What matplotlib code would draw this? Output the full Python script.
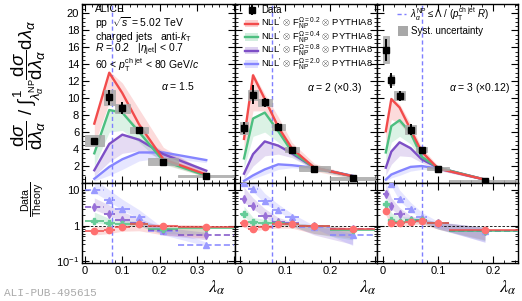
import numpy as np
import matplotlib
matplotlib.use('Agg')
import matplotlib.pyplot as plt
from matplotlib.patches import Rectangle
from matplotlib.lines import Line2D
from matplotlib.ticker import MultipleLocator, FuncFormatter, LogLocator, NullFormatter, FixedLocator

plt.rcParams['font.family'] = ['Liberation Sans', 'DejaVu Sans']
plt.rcParams['mathtext.fontset'] = 'custom'
plt.rcParams['mathtext.rm'] = 'Liberation Sans'
plt.rcParams['mathtext.it'] = 'Liberation Sans:italic'
plt.rcParams['mathtext.bf'] = 'Liberation Sans:bold'

# ---------------- data ----------------
MODEL_LABELS = ['0.2', '0.4', '0.8', '2.0']
LAMBDA_NP = 0.0714
ALPHA_LABELS = [r'$\alpha$ = 1.5', r'$\alpha$ = 2 ($\times$0.3)', r'$\alpha$ = 3 ($\times$0.12)']

# panel 1 : alpha = 1.5
P1_EDGES = [0, 0.05, 0.08, 0.12, 0.17, 0.25, 0.40]
P1_DATA = [5.0, 10.1, 8.8, 6.2, 2.5, 0.8]
P1_STAT = [0.3, 0.9, 0.7, 0.45, 0.25, 0.1]
P1_SYST = [0.65, 0.9, 0.5, 0.35, 0.4, 0.1]
P1_THEORY = [[7.0, 13.0, 10.6, 6.9, 2.8, 1.0],
             [3.5, 8.6, 8.3, 6.0, 2.6, 0.85],
             [1.5, 4.6, 5.7, 5.1, 3.4, 1.45],
             [0.5, 1.9, 2.8, 3.6, 3.6, 2.7]]
P1_THEORY_LO = [[4.5, 9.5, 8.5, 6.0, 2.3, 0.7],
                [2.0, 6.0, 6.2, 4.8, 2.2, 0.7],
                [0.8, 2.5, 3.5, 3.8, 2.9, 1.2],
                [0.25, 0.9, 1.6, 2.6, 3.0, 2.4]]
P1_THEORY_HI = [[7.3, 13.2, 11.8, 8.7, 4.2, 1.3],
                [3.6, 8.7, 8.5, 6.4, 3.2, 1.0],
                [1.6, 4.7, 5.8, 5.3, 3.8, 1.6],
                [0.55, 2.0, 2.9, 3.7, 3.7, 2.8]]
P1_RATIO = [[0.69, 0.76, 0.90, 1.11, 1.0, 0.94],
            [1.38, 1.19, 1.12, 1.15, 0.81, 0.84],
            [3.3, 2.1, 1.48, 1.16, 0.76, 0.56],
            [10.1, 5.3, 2.95, 1.8, 0.69, 0.29]]
P1_RATIO_LO = [[0.55, 0.6, 0.7, 0.72, 0.55, 0.45],
               [1.2, 1.05, 1.0, 0.95, 0.6, 0.55],
               [2.8, 1.9, 1.3, 1.05, 0.55, 0.4],
               [8.5, 4.8, 2.7, 1.6, 0.55, 0.27]]
P1_RATIO_HI = [[0.95, 0.95, 1.05, 1.2, 1.1, 1.05],
               [2.4, 1.6, 1.4, 1.35, 0.95, 0.95],
               [6.0, 3.8, 2.5, 1.6, 0.9, 0.65],
               [20, 10, 5.5, 2.8, 0.85, 0.35]]

# panel 2 : alpha = 2 (x0.3)
P2_EDGES = [0, 0.018, 0.04, 0.07, 0.10, 0.13, 0.20, 0.30]
P2_DATA = [6.5, 10.4, 9.5, 6.6, 3.9, 1.7, 0.55]
P2_STAT = [0.7, 1.1, 0.5, 0.5, 0.3, 0.15, 0.08]
P2_SYST = [0.7, 0.6, 0.4, 0.4, 0.3, 0.3, 0.2]
P2_THEORY = [[5.2, 12.7, 9.9, 6.6, 4.1, 1.8, 0.8],
             [2.9, 7.6, 8.3, 6.1, 3.7, 1.8, 0.8],
             [1.1, 3.4, 4.9, 4.4, 3.5, 1.8, 0.8],
             [0.25, 0.9, 1.6, 2.2, 2.1, 1.8, 0.85]]
P2_THEORY_LO = [[3.5, 8.5, 8.5, 6.0, 3.7, 1.4, 0.5],
                [1.8, 5.5, 6.0, 4.8, 3.2, 1.5, 0.6],
                [0.5, 2.0, 3.2, 3.4, 3.0, 1.6, 0.65],
                [0.1, 0.5, 1.0, 1.6, 1.8, 1.6, 0.7]]
P2_THEORY_HI = [[5.4, 13.0, 10.5, 7.8, 4.8, 2.3, 0.9],
                [3.0, 7.8, 8.5, 6.3, 4.0, 2.1, 0.9],
                [1.2, 3.5, 5.0, 4.6, 3.7, 2.0, 0.9],
                [0.3, 1.0, 1.7, 2.3, 2.2, 1.9, 0.9]]
P2_RATIO = [[1.16, 0.81, 0.9, 1.1, 1.1, 0.96, 0.81],
            [2.1, 1.24, 1.16, 1.16, 1.1, 0.96, 0.76],
            [5.6, 3.66, 1.9, 1.24, 1.16, 0.96, 0.81],
            [16, 10.8, 4.8, 2.8, 1.8, 0.94, 0.55]]
P2_RATIO_LO = [[0.9, 0.7, 0.8, 0.85, 0.85, 0.6, 0.45],
               [1.8, 1.1, 1.05, 1.0, 0.95, 0.6, 0.4],
               [4.5, 3.0, 1.7, 1.1, 1.0, 0.55, 0.3],
               [14, 9, 4.2, 2.5, 1.5, 0.85, 0.28]]
P2_RATIO_HI = [[1.6, 1.1, 1.05, 1.15, 1.15, 1.05, 0.9],
               [3.5, 1.7, 1.5, 1.4, 1.25, 1.05, 0.85],
               [12, 6, 3, 1.7, 1.3, 1.0, 0.85],
               [40, 20, 8, 4, 2.2, 1.0, 0.6]]

# panel 3 : alpha = 3 (x0.12)
P3_EDGES = [0, 0.01, 0.02, 0.04, 0.06, 0.08, 0.12, 0.25]
P3_DATA = [15.7, 12.1, 10.3, 6.3, 3.9, 1.7, 0.25]
P3_STAT = [1.3, 0.9, 0.6, 0.6, 0.35, 0.2, 0.1]
P3_SYST = [1.6, 0.6, 0.5, 0.5, 0.3, 0.2, 0.1]
P3_THEORY = [[6.1, 9.9, 8.9, 6.3, 3.7, 1.7, 0.4],
             [3.6, 6.7, 7.4, 5.9, 3.1, 1.8, 0.4],
             [1.8, 3.7, 4.8, 4.1, 2.8, 1.8, 0.4],
             [0.4, 1.0, 1.4, 1.9, 2.0, 1.7, 0.4]]
P3_THEORY_LO = [[4.5, 7.5, 7.0, 5.5, 3.3, 1.5, 0.3],
                [2.2, 4.8, 5.5, 4.6, 2.7, 1.6, 0.3],
                [0.9, 2.2, 3.2, 3.1, 2.4, 1.6, 0.3],
                [0.2, 0.6, 0.9, 1.4, 1.6, 1.5, 0.3]]
P3_THEORY_HI = [[6.3, 10.1, 9.3, 7.0, 4.2, 2.0, 0.5],
                [3.7, 6.9, 7.6, 6.1, 3.4, 2.0, 0.5],
                [1.9, 3.8, 4.9, 4.3, 3.0, 2.0, 0.5],
                [0.45, 1.05, 1.5, 2.0, 2.1, 1.8, 0.5]]
P3_RATIO = [[2.6, 1.16, 1.16, 1.3, 1.32, 1.16, 0.75],
            [4.1, 1.45, 1.3, 1.45, 1.45, 1.16, 0.73],
            [7.8, 3.66, 2.1, 1.45, 1.4, 1.16, 0.72],
            [30, 15, 5.6, 2.95, 1.7, 1.16, 0.70]]
P3_RATIO_LO = [[2.0, 0.95, 0.95, 1.05, 1.1, 0.8, 0.4],
               [3.5, 1.25, 1.15, 1.2, 1.2, 0.8, 0.38],
               [7, 3.0, 1.9, 1.3, 1.25, 0.8, 0.35],
               [25, 13, 5, 2.6, 1.5, 0.85, 0.34]]
P3_RATIO_HI = [[3.5, 1.5, 1.4, 1.4, 1.45, 1.25, 0.9],
               [7, 2.3, 1.8, 1.7, 1.6, 1.25, 0.9],
               [16, 6, 3.2, 1.9, 1.6, 1.25, 0.9],
               [60, 30, 10, 4.5, 2.4, 1.3, 0.9]]

PANELS = [
    dict(edges=P1_EDGES, data=P1_DATA, stat=P1_STAT, syst=P1_SYST, th=P1_THEORY, thlo=P1_THEORY_LO,
         thhi=P1_THEORY_HI, r=P1_RATIO, rlo=P1_RATIO_LO, rhi=P1_RATIO_HI),
    dict(edges=P2_EDGES, data=P2_DATA, stat=P2_STAT, syst=P2_SYST, th=P2_THEORY, thlo=P2_THEORY_LO,
         thhi=P2_THEORY_HI, r=P2_RATIO, rlo=P2_RATIO_LO, rhi=P2_RATIO_HI),
    dict(edges=P3_EDGES, data=P3_DATA, stat=P3_STAT, syst=P3_SYST, th=P3_THEORY, thlo=P3_THEORY_LO,
         thhi=P3_THEORY_HI, r=P3_RATIO, rlo=P3_RATIO_LO, rhi=P3_RATIO_HI),
]

# ---------------- style ----------------
COLORS = ['#f24b4b', '#4dbf80', '#7d4fc6', '#8585ff']
MCOLORS = ['#ff7070', '#66cc99', '#9a70d8', '#9a9aff']
MARKERS = ['o', 'P', 'd', '^']
MSIZES = [4.5, 5, 4, 4.5]
XLIMS = [(-0.008, 0.402), (-0.011, 0.304), (-0.011, 0.245)]
XLABEL_MAX = [0.35, 0.25, 0.22]
PX_X = [(82, 235), (235, 377), (377, 518)]
TOP_Y = (4, 183)
BOT_Y = (183, 263)
DASH_COLOR = '#7f7fff'

W, H = 522, 301
fig = plt.figure(figsize=(W / 100, H / 100), dpi=100)


def fx(px):
    return px / W


def fy(py):
    return 1 - py / H


def style_axis(ax):
    ax.tick_params(which='both', direction='in', top=True, right=True, labelsize=8, pad=2)
    ax.tick_params(which='major', length=5, width=0.8)
    ax.tick_params(which='minor', length=2.5, width=0.6)
    for s in ax.spines.values():
        s.set_linewidth(1.0)


def xfmt_factory(vmax):
    def f(v, p):
        if v > vmax + 1e-9:
            return ''
        if abs(v) < 1e-9:
            return '0'
        return f'{v:.1f}'
    return FuncFormatter(f)


def rfmt(v, p):
    if abs(v - 10) < 1e-6:
        return '10'
    if abs(v - 1) < 1e-6:
        return '1'
    if abs(v - 0.1) < 1e-6:
        return r'$10^{-1}$'
    return ''


ALPHA_POS = [(161, 86), (307, 88), (449, 88)]

for i, p in enumerate(PANELS):
    l, r = PX_X[i]
    axt = fig.add_axes([fx(l), fy(TOP_Y[1]), fx(r) - fx(l), fy(TOP_Y[0]) - fy(TOP_Y[1])])
    axr = fig.add_axes([fx(l), fy(BOT_Y[1]), fx(r) - fx(l), fy(BOT_Y[0]) - fy(BOT_Y[1])])
    edges = np.array(p['edges'])
    xc = 0.5 * (edges[1:] + edges[:-1])
    xw = 0.5 * (edges[1:] - edges[:-1])

    # ---- top panel
    for m in range(4):
        axt.fill_between(xc, p['thlo'][m], p['thhi'][m], color=COLORS[m], alpha=0.2, lw=0, zorder=1)
    for m in [3, 2, 1, 0]:
        axt.plot(xc, p['th'][m], color=COLORS[m], lw=1.7, zorder=3)
    for x0, x1, y, s in zip(edges[:-1], edges[1:], p['data'], p['syst']):
        axt.add_patch(Rectangle((x0, y - s), x1 - x0, 2 * s, fc='#a8a8a8', ec='#a8a8a8', lw=0.6,
                                alpha=0.85, zorder=4))
    axt.errorbar(xc, p['data'], yerr=p['stat'], fmt='s', color='k', ms=4, lw=1.4, capsize=0, zorder=6)
    axt.axvline(LAMBDA_NP, color=DASH_COLOR, ls=(0, (3, 2)), lw=1.0, zorder=2)
    axt.set_xlim(*XLIMS[i])
    axt.set_ylim(0, 21.1)
    axt.xaxis.set_major_locator(MultipleLocator(0.1))
    axt.xaxis.set_minor_locator(MultipleLocator(0.02))
    axt.yaxis.set_major_locator(FixedLocator(np.arange(2, 21, 2)))
    axt.yaxis.set_minor_locator(MultipleLocator(0.5))
    style_axis(axt)
    axt.tick_params(labelbottom=False)
    if i > 0:
        axt.tick_params(labelleft=False)
    fig.text(fx(ALPHA_POS[i][0]), fy(ALPHA_POS[i][1]), ALPHA_LABELS[i], fontsize=7.5,
             ha='left', va='center')

    # ---- ratio panel
    for m in range(4):
        axr.fill_between(xc, p['rlo'][m], p['rhi'][m], color=COLORS[m], alpha=0.2, lw=0, zorder=1)
    axr.axhline(1, color='k', ls=(0, (3, 2)), lw=0.6, zorder=2)
    for m in [3, 2, 1, 0]:
        eb = axr.errorbar(xc, p['r'][m], xerr=xw, fmt=MARKERS[m], color=COLORS[m], mfc=MCOLORS[m],
                          mec=MCOLORS[m], ms=MSIZES[m], lw=1.1, capsize=0, zorder=4)
        if m >= 2:
            eb[2][0].set_linestyle((0, (4, 2)))
    axr.axvline(LAMBDA_NP, color=DASH_COLOR, ls=(0, (3, 2)), lw=1.0, zorder=2)
    axr.set_yscale('log')
    axr.set_xlim(*XLIMS[i])
    axr.set_ylim(0.09, 15.7)
    axr.xaxis.set_major_locator(MultipleLocator(0.1))
    axr.xaxis.set_minor_locator(MultipleLocator(0.02))
    axr.xaxis.set_major_formatter(xfmt_factory(XLABEL_MAX[i]))
    axr.yaxis.set_major_locator(FixedLocator([0.1, 1, 10]))
    axr.yaxis.set_major_formatter(FuncFormatter(rfmt))
    axr.yaxis.set_minor_locator(LogLocator(base=10, subs=np.arange(2, 10)))
    axr.yaxis.set_minor_formatter(NullFormatter())
    style_axis(axr)
    if i > 0:
        axr.tick_params(labelleft=False)

# x labels
for x in [217, 368, 508]:
    fig.text(fx(x), fy(288), r'$\lambda_{\alpha}$', fontsize=13, ha='center', va='center',
             math_fontfamily='stix')

# y labels
fig.text(fx(29), fy(85),
         r'$\dfrac{\mathrm{d}\sigma}{\mathrm{d}\lambda_{\alpha}}\ /\ '
         r'\int_{\lambda_{\alpha}^{\mathrm{NP}}}^{1}\dfrac{\mathrm{d}\sigma}{\mathrm{d}\lambda_{\alpha}}'
         r'\mathrm{d}\lambda_{\alpha}$',
         rotation=90, ha='center', va='center', fontsize=13.5)
fig.text(fx(33), fy(199), r'$\frac{\mathrm{Data}}{\mathrm{Theory}}$', rotation=90, ha='center',
         va='center', fontsize=11)

# ALICE texts
info = ['ALICE', r'pp  $\sqrt{s}$ = 5.02 TeV', r'charged jets   anti-$k_{\mathrm{T}}$',
        r'$R$ = 0.2   $|\eta_{\mathrm{jet}}|$ < 0.7',
        r'60 < $p_{\mathrm{T}}^{\mathrm{ch\ jet}}$ < 80 GeV/$c$']
for s, y in zip(info, [9.5, 23.5, 37, 50, 65]):
    fig.text(fx(95), fy(y), s, fontsize=7.5, ha='left', va='center')

# legend 1 (data + models)
fig.add_artist(Line2D([fx(251.5), fx(251.5)], [fy(6), fy(14)], color='k', lw=1.4,
                      transform=fig.transFigure))
fig.add_artist(Line2D([fx(251.5)], [fy(10)], marker='s', color='k', ms=4, transform=fig.transFigure))
fig.text(fx(261), fy(10), 'Data', fontsize=7, ha='left', va='center')
for m, y in enumerate([23.5, 37, 50.5, 64]):
    fig.add_artist(Rectangle((fx(245), fy(y + 3.5)), fx(258) - fx(245), 7 / H, transform=fig.transFigure,
                             fc=COLORS[m], alpha=0.25, ec='none'))
    fig.add_artist(Line2D([fx(245), fx(258)], [fy(y), fy(y)], color=COLORS[m], lw=1.7,
                          transform=fig.transFigure))
    fig.text(fx(261), fy(y),
             r"NLL$'$ ${\otimes}$ $\mathrm{F}_{\mathrm{NP}}^{\Omega=" + MODEL_LABELS[m] + r"}$ ${\otimes}$ PYTHIA8",
             fontsize=6.8, ha='left', va='center')

# legend 2
fig.add_artist(Line2D([fx(397), fx(406)], [fy(14), fy(14)], color=DASH_COLOR, lw=1.0, ls=(0, (3, 2)),
                      transform=fig.transFigure))
fig.text(fx(410), fy(14), r'$\lambda_{\alpha}^{\mathrm{NP}} \leq \Lambda\ /\ (p_{\mathrm{T}}^{\mathrm{ch\ jet}}\ R)$',
         fontsize=7, ha='left', va='center')
fig.add_artist(Rectangle((fx(398), fy(36)), fx(408) - fx(398), 10 / H, transform=fig.transFigure,
                         fc='#a8a8a8', ec='none'))
fig.text(fx(411), fy(31), 'Syst. uncertainty', fontsize=7, ha='left', va='center')

fig.text(fx(4), fy(293), 'ALI-PUB-495615', fontsize=8, family='Liberation Mono', color='#aaaaaa',
         ha='left', va='center')

fig.savefig('out.png', dpi=100)
